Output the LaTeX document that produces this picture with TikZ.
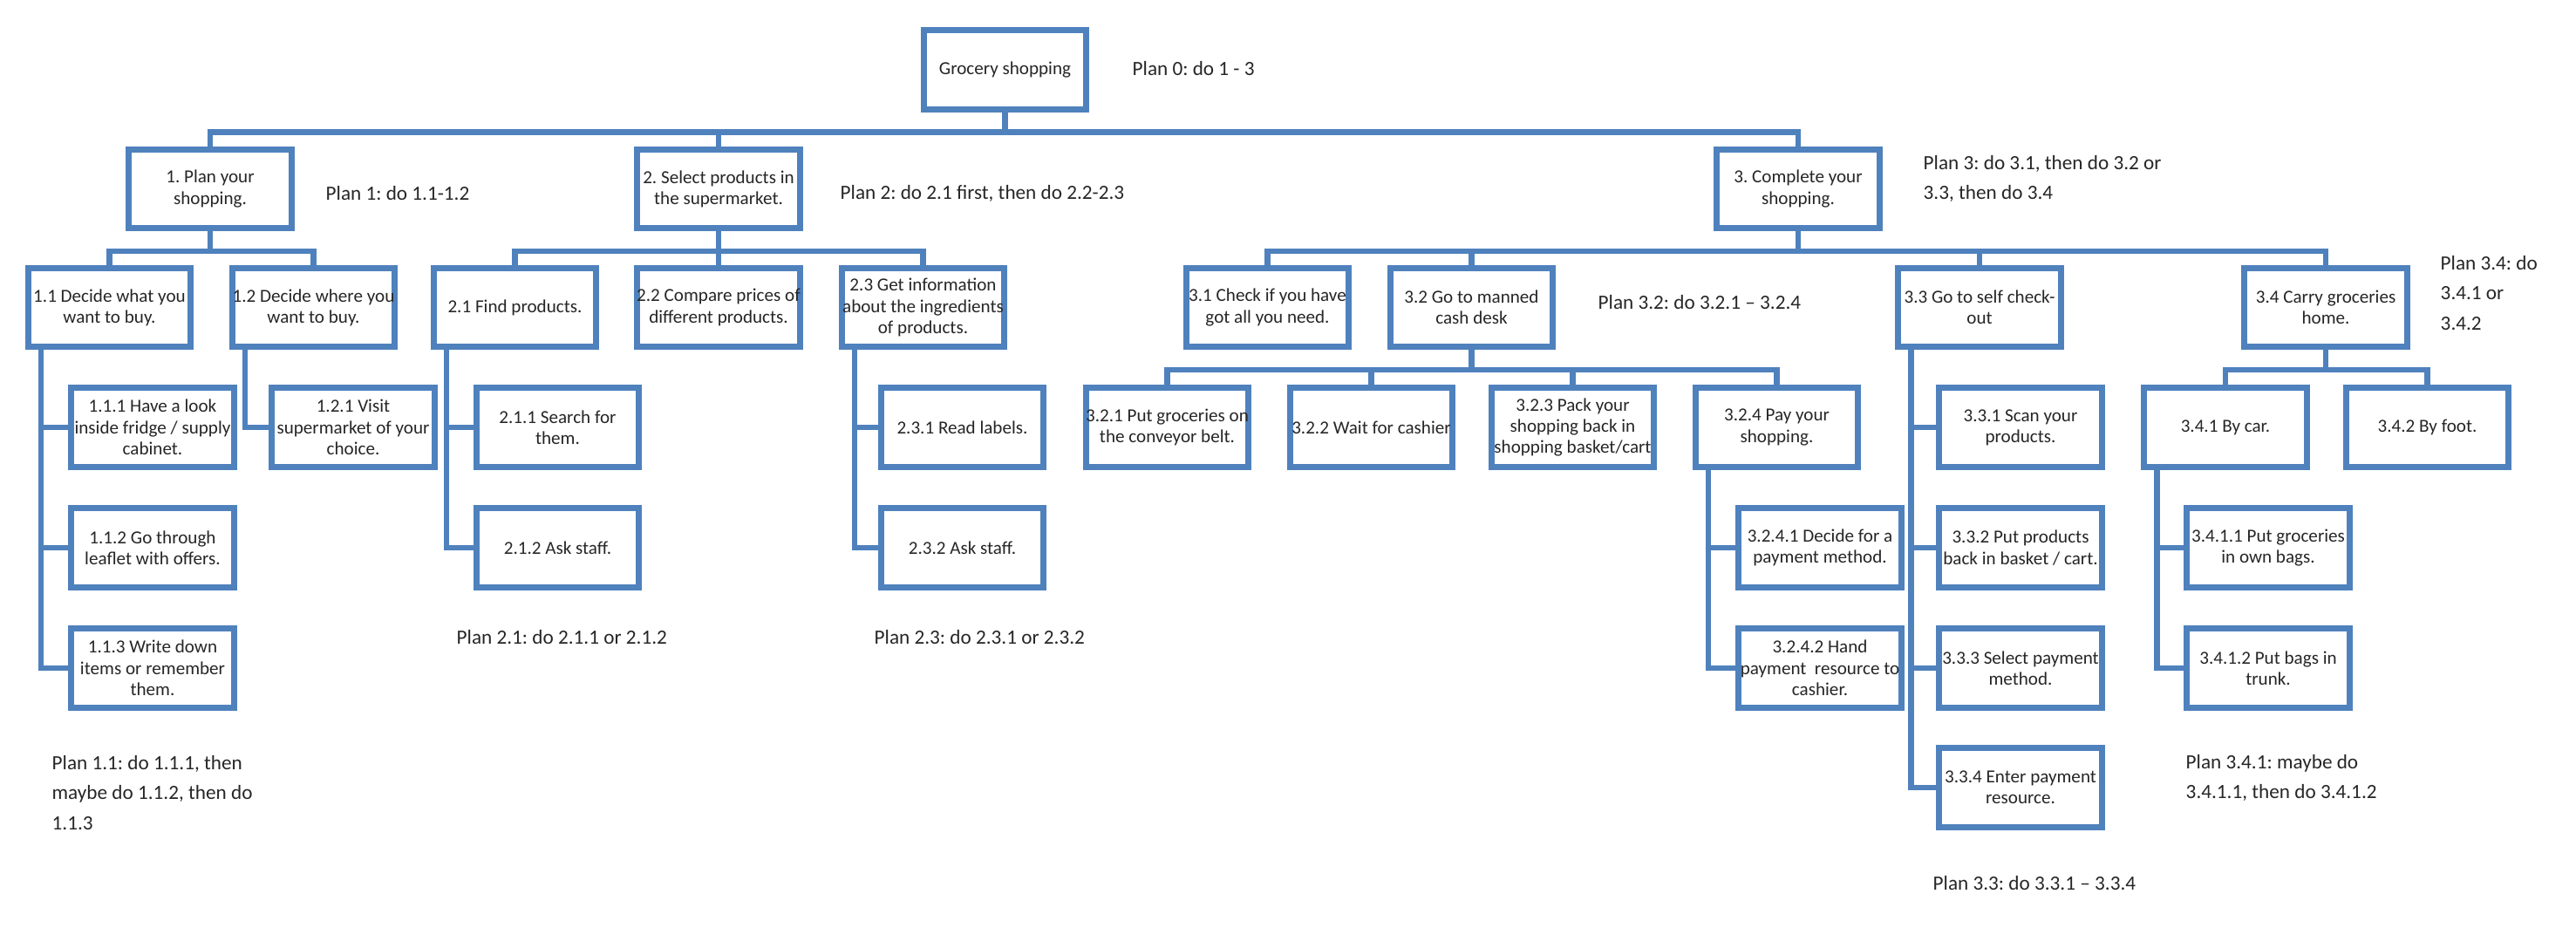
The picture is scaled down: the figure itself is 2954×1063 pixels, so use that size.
\documentclass[tikz,border=0pt]{standalone}
\usepackage{fontspec}
\setmainfont{Carlito}
\usepackage{tikz}
\frenchspacing

\definecolor{taskblue}{RGB}{79,129,189}

\begin{document}
\begin{tikzpicture}[x=0.01cm,y=-0.01cm,
  task/.style={draw=taskblue,line width=0.07cm,minimum height=0.9cm,minimum width=1.86cm,inner sep=0pt,align=center,font=\fontsize{6pt}{6.9pt}\selectfont,text=black!85},
  plan/.style={anchor=west,inner sep=0pt,align=left,font=\fontsize{6.6pt}{9.9pt}\selectfont,text=black!85},
  link/.style={draw=taskblue,line width=0.065cm}]
  \useasboundingbox (0,0) rectangle (2954,1063);

  %% level 0 and 1
  \node[task] (root) at (1152.5,80) {Grocery shopping};
  \node[task] (t1) at (241,216.5) {1. Plan your\\shopping.};
  \node[task] (t2) at (824,216.5) {2. Select products in\\the supermarket.};
  \node[task] (t3) at (2062,216.5) {3. Complete your\\shopping.};

  %% level 2
  \node[task] (t11) at (125.5,352.5) {1.1 Decide what you\\want to buy.};
  \node[task] (t12) at (359.5,352.5) {1.2 Decide where you\\want to buy.};
  \node[task] (t21) at (590.5,352.5) {2.1 Find products.};
  \node[task] (t22) at (824,352.5) {2.2 Compare prices of\\different products.};
  \node[task] (t23) at (1058.5,352.5) {2.3 Get information\\about the ingredients\\of products.};
  \node[task] (t31) at (1453.5,352.5) {3.1 Check if you have\\got all you need.};
  \node[task] (t32) at (1687.5,352.5) {3.2 Go to manned\\cash desk};
  \node[task] (t33) at (2270,352.5) {3.3 Go to self check-\\out};
  \node[task] (t34) at (2667,352.5) {3.4 Carry groceries\\home.};

  %% level 3
  \node[task] (t111) at (175,490) {1.1.1 Have a look\\inside fridge / supply\\cabinet.};
  \node[task] (t112) at (175,628) {1.1.2 Go through\\leaflet with offers.};
  \node[task] (t113) at (175,766) {1.1.3 Write down\\items or remember\\them.};
  \node[task] (t121) at (405,490) {1.2.1 Visit\\supermarket of your\\choice.};
  \node[task] (t211) at (639.5,490) {2.1.1 Search for\\them.};
  \node[task] (t212) at (639.5,628) {2.1.2 Ask staff.};
  \node[task] (t231) at (1103.5,490) {2.3.1 Read labels.};
  \node[task] (t232) at (1103.5,628) {2.3.2 Ask staff.};
  \node[task] (t321) at (1338.5,490) {3.2.1 Put groceries on\\the conveyor belt.};
  \node[task] (t322) at (1572.5,490) {3.2.2 Wait for cashier};
  \node[task] (t323) at (1803.5,490) {3.2.3 Pack your\\shopping back in\\shopping basket/cart};
  \node[task] (t324) at (2037.5,490) {3.2.4 Pay your\\shopping.};
  \node[task] (t331) at (2317,490) {3.3.1 Scan your\\products.};
  \node[task] (t332) at (2317,628) {3.3.2 Put products\\back in basket / cart.};
  \node[task] (t333) at (2317,766) {3.3.3 Select payment\\method.};
  \node[task] (t334) at (2317,903) {3.3.4 Enter payment\\resource.};
  \node[task] (t341) at (2552,490) {3.4.1 By car.};
  \node[task] (t342) at (2783.5,490) {3.4.2 By foot.};

  %% level 4
  \node[task] (t3241) at (2087,628) {3.2.4.1 Decide for a\\payment method.};
  \node[task] (t3242) at (2087,766) {3.2.4.2 Hand\\payment\ \ resource to\\cashier.};
  \node[task] (t3411) at (2601,628) {3.4.1.1 Put groceries\\in own bags.};
  \node[task] (t3412) at (2601,766) {3.4.1.2 Put bags in\\trunk.};

  %% bus connectors
  \draw[link] (root.south) -- ++(0,23) -| (t1.north);
  \draw[link] (root.south) -- ++(0,23) -| (t2.north);
  \draw[link] (root.south) -- ++(0,23) -| (t3.north);
  \draw[link] (t1.south) -- ++(0,23) -| (t11.north);
  \draw[link] (t1.south) -- ++(0,23) -| (t12.north);
  \draw[link] (t2.south) -- ++(0,23) -| (t21.north);
  \draw[link] (t2.south) -- ++(0,23) -| (t22.north);
  \draw[link] (t2.south) -- ++(0,23) -| (t23.north);
  \draw[link] (t3.south) -- ++(0,23) -| (t31.north);
  \draw[link] (t3.south) -- ++(0,23) -| (t32.north);
  \draw[link] (t3.south) -- ++(0,23) -| (t33.north);
  \draw[link] (t3.south) -- ++(0,23) -| (t34.north);
  \draw[link] (t32.south) -- ++(0,23) -| (t321.north);
  \draw[link] (t32.south) -- ++(0,23) -| (t322.north);
  \draw[link] (t32.south) -- ++(0,23) -| (t323.north);
  \draw[link] (t32.south) -- ++(0,23) -| (t324.north);
  \draw[link] (t34.south) -- ++(0,23) -| (t341.north);
  \draw[link] (t34.south) -- ++(0,23) -| (t342.north);

  %% spine connectors
  \draw[link] ([xshift=0.18cm]t11.south west) |- (t111.west);
  \draw[link] ([xshift=0.18cm]t11.south west) |- (t112.west);
  \draw[link] ([xshift=0.18cm]t11.south west) |- (t113.west);
  \draw[link] ([xshift=0.18cm]t12.south west) |- (t121.west);
  \draw[link] ([xshift=0.18cm]t21.south west) |- (t211.west);
  \draw[link] ([xshift=0.18cm]t21.south west) |- (t212.west);
  \draw[link] ([xshift=0.18cm]t23.south west) |- (t231.west);
  \draw[link] ([xshift=0.18cm]t23.south west) |- (t232.west);
  \draw[link] ([xshift=0.18cm]t33.south west) |- (t331.west);
  \draw[link] ([xshift=0.18cm]t33.south west) |- (t332.west);
  \draw[link] ([xshift=0.18cm]t33.south west) |- (t333.west);
  \draw[link] ([xshift=0.18cm]t33.south west) |- (t334.west);
  \draw[link] ([xshift=0.18cm]t324.south west) |- (t3241.west);
  \draw[link] ([xshift=0.18cm]t324.south west) |- (t3242.west);
  \draw[link] ([xshift=0.18cm]t341.south west) |- (t3411.west);
  \draw[link] ([xshift=0.18cm]t341.south west) |- (t3412.west);

  %% plans
  \node[plan] (p0) at (1298,79) {Plan 0: do 1 - 3};
  \node[plan] (p1) at (373,222) {Plan 1: do 1.1-1.2};
  \node[plan] (p2) at (963,222) {Plan 2: do 2.1 first, then do 2.2-2.3};
  \node[plan] (p3) at (2205,205) {Plan 3: do 3.1, then do 3.2 or\\3.3, then do 3.4};
  \node[plan] (p32) at (1832,347) {Plan 3.2: do 3.2.1 -- 3.2.4};
  \node[plan] (p34) at (2798,336) {Plan 3.4: do\\3.4.1 or\\3.4.2};
  \node[plan] (p21) at (523,731) {Plan 2.1: do 2.1.1 or 2.1.2};
  \node[plan] (p23) at (1002,731) {Plan 2.3: do 2.3.1 or 2.3.2};
  \node[plan] (p11) at (59,909) {Plan 1.1: do 1.1.1, then\\maybe do 1.1.2, then do\\1.1.3};
  \node[plan] (p341) at (2506,892) {Plan 3.4.1: maybe do\\3.4.1.1, then do 3.4.1.2};
  \node[plan] (p33) at (2216,1013) {Plan 3.3: do 3.3.1 -- 3.3.4};
\end{tikzpicture}
\end{document}
